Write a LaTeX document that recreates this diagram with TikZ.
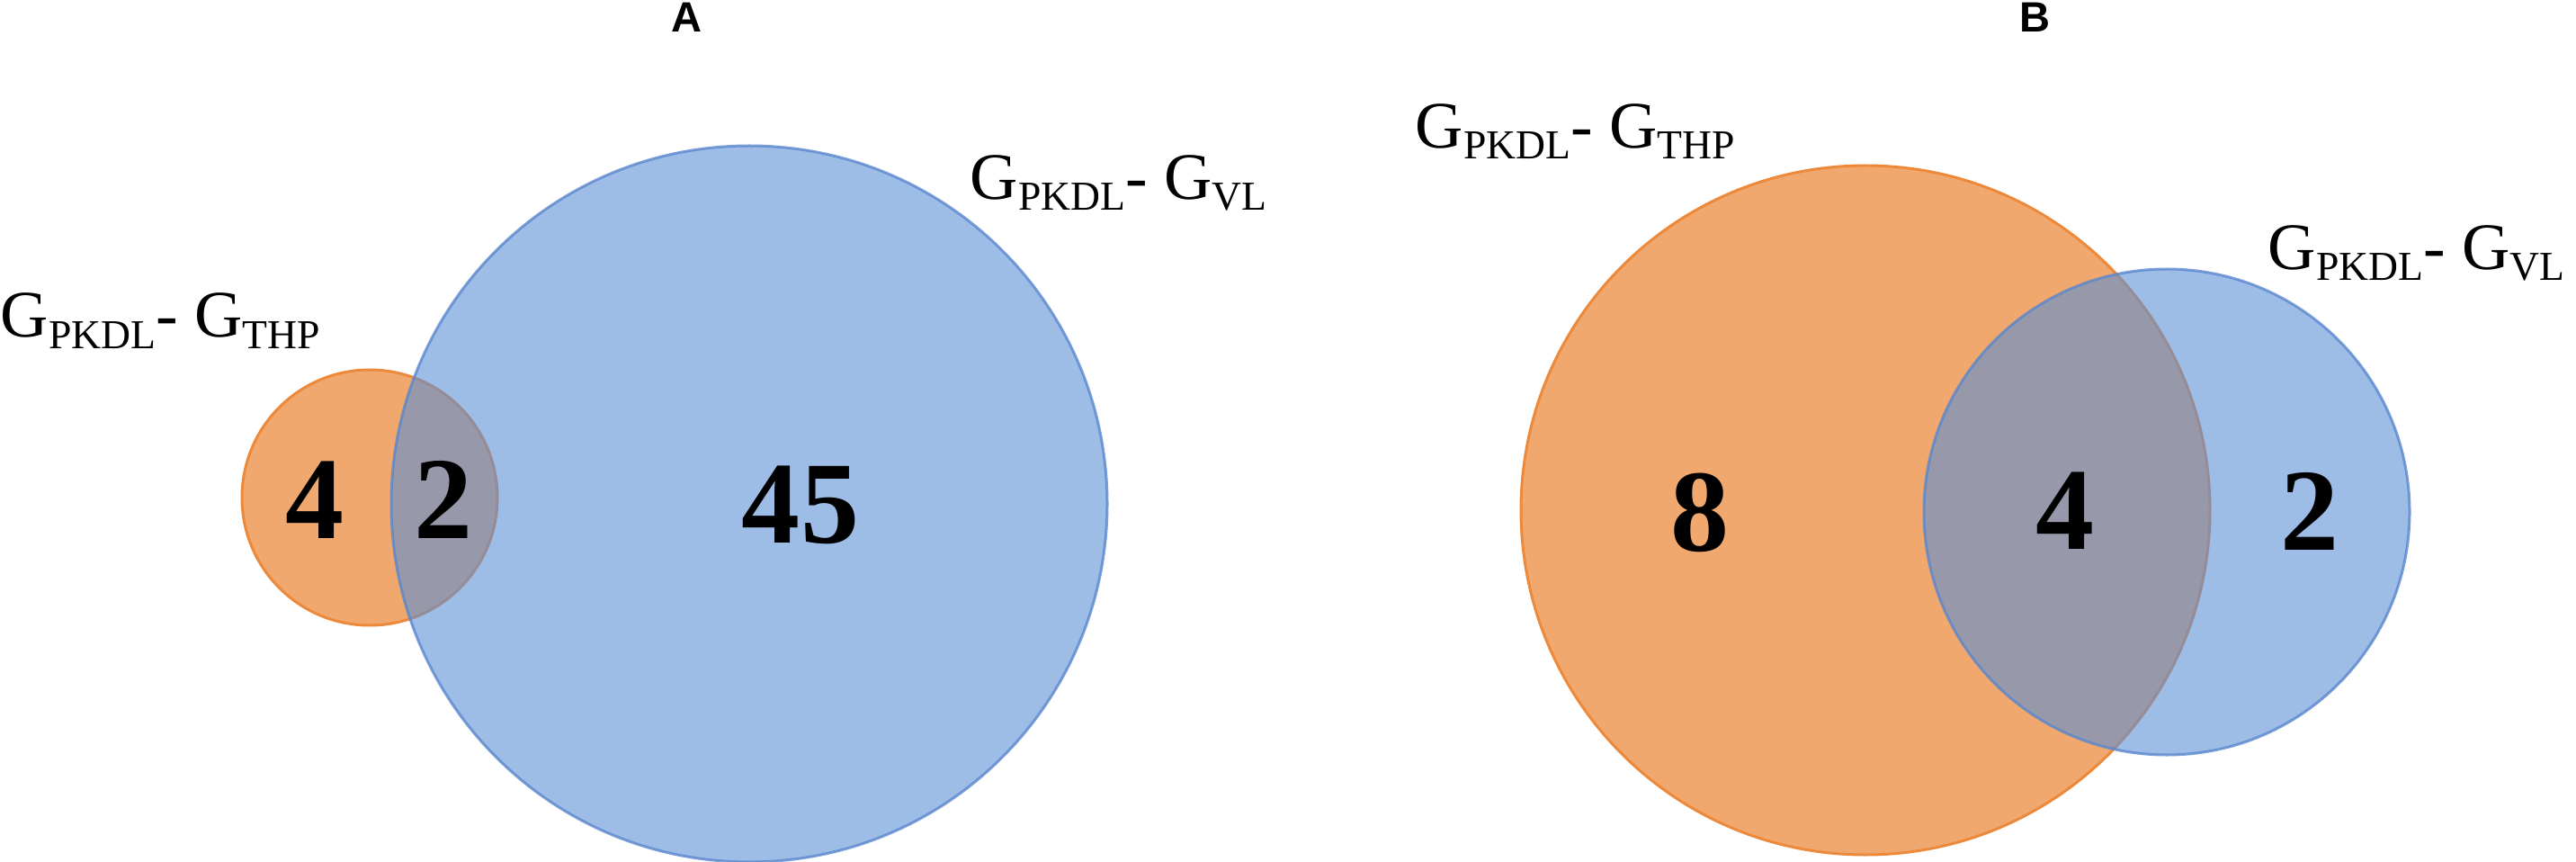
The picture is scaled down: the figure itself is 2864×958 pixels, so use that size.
\documentclass[tikz,border=0pt]{standalone}
\usepackage{fontspec}
\setmainfont{Liberation Serif}
\newfontfamily\panelfont{Liberation Sans}
\definecolor{vorange}{RGB}{240,168,110}
\definecolor{vorangeline}{RGB}{236,137,58}
\definecolor{vblue}{RGB}{92,143,213}
\definecolor{vblueline}{RGB}{90,135,205}
\newcommand{\subtxt}[1]{\lower 1.2mm\hbox{\fontsize{13pt}{13pt}\selectfont #1}}
\newcommand{\setlbl}[1]{G\subtxt{PKDL}- G\subtxt{#1}}
\tikzset{
  orangeset/.style={fill=vorange, draw=vorangeline, line width=0.3mm},
  blueset/.style={fill=vblue, draw=vblueline, fill opacity=0.6, draw opacity=0.8, line width=0.3mm},
  count/.style={inner sep=0, font=\fontsize{37pt}{37pt}\selectfont\bfseries},
  setname/.style={anchor=base west, inner sep=0, font=\fontsize{21pt}{21pt}\selectfont},
  panel/.style={anchor=base, inner sep=0, font=\panelfont\fontsize{13.4pt}{13.4pt}\selectfont\bfseries}
}
\begin{document}
\begin{tikzpicture}[x=0.1mm, y=-0.1mm]
	\useasboundingbox (0,0) rectangle (2864,958);
	% panel A
	\draw[orangeset] (411,553) circle (142);
	\draw[blueset] (833,560) circle (398);
	\node[panel] (pa) at (763,36) {A};
	\node[count] (a4) at (350,556) {4};
	\node[count] (a2) at (493,555) {2};
	\node[count] (a45) at (890,561) {45};
	\node[setname] (athp) at (0,375) {\setlbl{THP}};
	\node[setname] (avl) at (1078,222) {\setlbl{VL}};
	% panel B
	\draw[orangeset] (2074,567) circle (383);
	\draw[blueset] (2409,569) circle (270);
	\node[panel] (pb) at (2262,36) {B};
	\node[count] (b8) at (1890,570) {8};
	\node[count] (b4) at (2296,568) {4};
	\node[count] (b2) at (2568,568) {2};
	\node[setname] (bthp) at (1573,165) {\setlbl{THP}};
	\node[setname] (bvl) at (2521,300) {\setlbl{VL}};
\end{tikzpicture}
\end{document}
